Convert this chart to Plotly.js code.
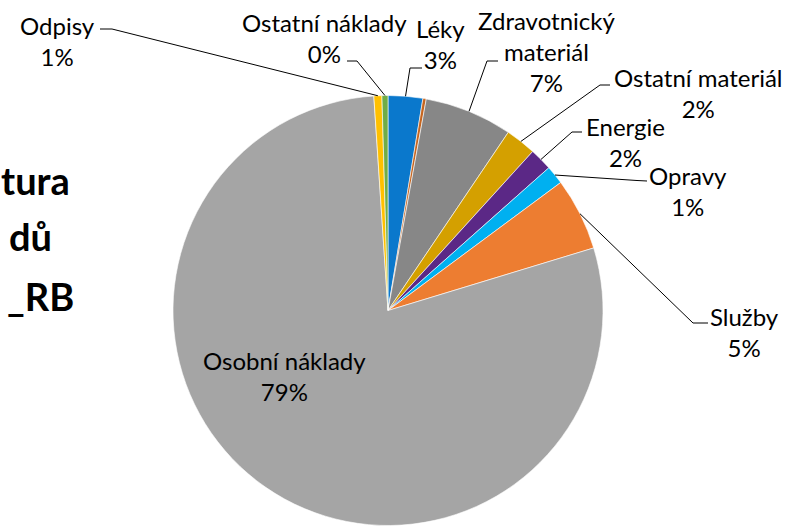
<!DOCTYPE html>
<html><head><meta charset="utf-8">
<script src="https://cdn.plot.ly/plotly-3.0.1.min.js"></script>
<style>html,body{margin:0;padding:0;background:#fff;overflow:hidden}</style>
</head><body>
<div id="chart" style="width:787px;height:527px"></div>
<script>
// ---- data ----
const categories = ["Léky", "Ostatní", "Zdravotnický materiál", "Ostatní materiál", "Energie", "Opravy", "Služby", "Osobní náklady", "Odpisy", "Ostatní náklady"];
const displayNames = ["Léky", "", "Zdravotnický<br>materiál", "Ostatní materiál", "Energie", "Opravy", "Služby", "Osobní náklady", "Odpisy", "Ostatní náklady"];
const shares = [2.6, 0.25, 6.6, 2.3, 1.7, 1.4, 5.45, 78.65, 0.6, 0.45];
const titleLines = ["tura", "dů", "_RB"];

// ---- styles / layout positions ----
const colors = ["#0A78CC", "#C5651F", "#878787", "#D4A000", "#5B2886", "#00B0F0", "#ED7D31", "#A5A5A5", "#FFC000", "#70AD47"];
const W = 787, H = 527;
const cx = 388, cy = 310.5, R = 215;
// label centre (px) and leader elbow/end (px); null = no label / no leader
const labelPos = [[440, 44], null, [546, 52], [698, 93], [625, 142], [688, 191], [744, 332], [284, 376], [58, 41], [324, 38]];
const leaders = [[[410, 68], [422, 68]], null, [[487, 61], [498, 61]], [[600, 85], [610, 85]], [[572, 132], [582, 132]],
  [[637, 180.5], [647, 181]], [[693, 323], [708, 323]], null, [[112, 29], [100, 29]], [[357, 61], [347, 61]]];
const titlePos = [[72, 180], [54, 236], [76, 296]];

const px = x => x / W, py = y => 1 - y / H;
const FONT = "Lato, 'Open Sans', sans-serif";

const total = shares.reduce((a, b) => a + b, 0);
const annotations = [], shapes = [];
let cum = 0;
shares.forEach((v, i) => {
  const mid = (cum + v / 2) / total * 2 * Math.PI;
  cum += v;
  const tip = [cx + R * Math.sin(mid), cy - R * Math.cos(mid)];
  if (labelPos[i]) {
    const pct = Math.round(v / total * 100);
    annotations.push({
      text: displayNames[i] + "<br>" + pct + "%",
      x: px(labelPos[i][0]), y: py(labelPos[i][1]), xref: "paper", yref: "paper",
      xanchor: "center", yanchor: "middle", align: "center", showarrow: false,
      font: {family: FONT, size: 24, color: "#000"}
    });
  }
  if (leaders[i]) {
    const p = [tip, leaders[i][0], leaders[i][1]];
    shapes.push({
      type: "path", xref: "paper", yref: "paper",
      path: "M " + p.map(q => px(q[0]) + "," + py(q[1])).join(" L "),
      line: {color: "#000", width: 1}
    });
  }
});
titleLines.forEach((t, i) => {
  annotations.push({
    text: "<b>" + t + "</b>", x: px(titlePos[i][0]), y: py(titlePos[i][1]),
    xref: "paper", yref: "paper", xanchor: "right", yanchor: "middle", showarrow: false,
    font: {family: FONT, size: 38, color: "#000"}
  });
});

const trace = {
  type: "pie", labels: categories, values: shares, sort: false,
  direction: "clockwise", rotation: 0, textinfo: "none", hoverinfo: "none",
  marker: {colors: colors, line: {color: "#fff", width: 0.6}},
  domain: {x: [px(cx - R), px(cx + R)], y: [py(cy + R), py(cy - R)]}
};
Plotly.newPlot("chart", [trace], {
  width: W, height: H, margin: {l: 0, r: 0, t: 0, b: 0},
  showlegend: false, paper_bgcolor: "#fff", plot_bgcolor: "#fff",
  annotations: annotations, shapes: shapes
}, {staticPlot: true});
</script>
</body></html>
